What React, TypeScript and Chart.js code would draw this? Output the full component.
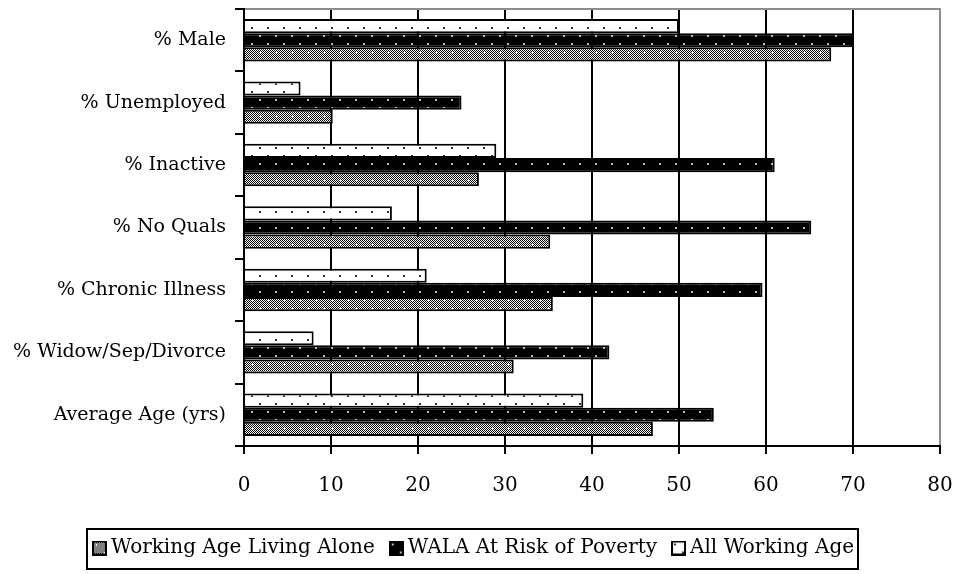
import React, { useEffect, useRef } from 'react';
import { Chart, registerables } from 'chart.js';

Chart.register(...registerables);

const categories = [
  '% Male',
  '% Unemployed',
  '% Inactive',
  '% No Quals',
  '% Chronic Illness',
  '% Widow/Sep/Divorce',
  'Average Age (yrs)',
];
const seriesNames = ['Working Age Living Alone', 'WALA At Risk of Poverty', 'All Working Age'];
const workingAgeAlone = [67.5, 10.2, 27, 35.2, 35.5, 31, 47];
const walaAtRisk = [70, 25, 61, 65.2, 59.6, 42, 54];
const allWorkingAge = [50, 6.5, 29, 17, 21, 8, 39];
const xTickValues = [0, 10, 20, 30, 40, 50, 60, 70, 80];

const FONT = 'DejaVu Serif';
const GREY = '#8c8c8c';

type Kind = 'white' | 'black' | 'grey';

function paintTile(g: CanvasRenderingContext2D, kind: Kind, w: number, h: number) {
  if (kind === 'white') {
    g.fillStyle = '#fff';
    g.fillRect(0, 0, w, h);
    g.fillStyle = '#333';
    for (let y = 0; y < h; y += 16) {
      for (let x = 0; x < w; x += 16) {
        g.fillRect(x + 3, y + 3, 2, 2);
        g.fillRect(x + 11, y + 11, 2, 2);
      }
    }
  } else if (kind === 'black') {
    g.fillStyle = '#000';
    g.fillRect(0, 0, w, h);
    g.fillStyle = '#bbb';
    for (let y = 0; y < h; y += 16) {
      for (let x = 0; x < w; x += 16) {
        g.fillRect(x + 3, y + 3, 2, 2);
        g.fillRect(x + 11, y + 11, 2, 2);
      }
    }
  } else {
    for (let y = 0; y < h; y++) {
      for (let x = 0; x < w; x++) {
        g.fillStyle = (x + y) % 2 === 0 ? '#000' : '#fff';
        g.fillRect(x, y, 1, 1);
      }
    }
    g.fillStyle = '#fff';
    const plus = (cx: number, cy: number) => {
      g.fillRect(cx - 1, cy, 3, 1);
      g.fillRect(cx, cy - 1, 1, 3);
    };
    for (let y = 0; y < h; y += 16) {
      for (let x = 0; x < w; x += 16) {
        plus(x + 4, y + 4);
        plus(x + 12, y + 12);
      }
    }
  }
}

function makePattern(kind: Kind): CanvasPattern | string {
  const c = document.createElement('canvas');
  c.width = 16;
  c.height = 16;
  const g = c.getContext('2d');
  if (!g) return '#888';
  paintTile(g, kind, 16, 16);
  return g.createPattern(c, 'repeat') || '#888';
}

function makeIcon(kind: Kind): HTMLCanvasElement {
  const c = document.createElement('canvas');
  c.width = 15;
  c.height = 15;
  const g = c.getContext('2d');
  if (g) {
    paintTile(g, kind, 15, 15);
    g.strokeStyle = '#000';
    g.lineWidth = 2;
    g.strokeRect(1, 1, 13, 13);
  }
  return c;
}

const LEGEND_SHIFT = 6;

const legendPlugin = {
  id: 'legendBorder',
  afterLayout(chart: any) {
    const l = chart.legend;
    if (l) {
      l.left += LEGEND_SHIFT;
      l.right += LEGEND_SHIFT;
    }
  },
  afterDraw(chart: any) {
    const l = chart.legend;
    if (!l || !l.lineWidths) return;
    const ctx = chart.ctx;
    const pad = l.options.labels.padding;
    const lw = l.lineWidths[0];
    const x0 = (l.left + pad + l.right - lw) / 2;
    const x1 = x0 + lw - pad;
    const cy = l.top + pad + 10;
    ctx.save();
    ctx.strokeStyle = '#000';
    ctx.lineWidth = 2;
    ctx.strokeRect(Math.round(x0 - 11), Math.round(cy - 19), Math.round(x1 - x0 + 15), 40);
    ctx.restore();
  },
};

const noPad = (s: any) => {
  s.paddingTop = 0;
  s.paddingBottom = 0;
  s.paddingLeft = 0;
  s.paddingRight = 0;
};

export default function App() {
  const ref = useRef<HTMLCanvasElement | null>(null);
  useEffect(() => {
    if (!ref.current) return;
    const kinds: Kind[] = ['white', 'black', 'grey'];
    const patterns = kinds.map((k) => makePattern(k));
    const icons = kinds.map((k) => makeIcon(k));
    const chart = new Chart(ref.current, {
      type: 'bar',
      data: {
        labels: categories,
        datasets: [
          {
            label: seriesNames[2],
            data: allWorkingAge,
            backgroundColor: patterns[0] as any,
            borderColor: '#000',
            borderWidth: 2,
          },
          {
            label: seriesNames[1],
            data: walaAtRisk,
            backgroundColor: patterns[1] as any,
            borderColor: '#000',
            borderWidth: 2,
          },
          {
            label: seriesNames[0],
            data: workingAgeAlone,
            backgroundColor: patterns[2] as any,
            borderColor: '#000',
            borderWidth: 2,
          },
        ],
      },
      options: {
        indexAxis: 'y',
        responsive: false,
        animation: false,
        layout: { padding: { top: 9, right: 17, bottom: 6, left: 0 } },
        datasets: {
          bar: { barPercentage: 1, categoryPercentage: 0.68 },
        },
        scales: {
          x: {
            type: 'linear',
            position: 'bottom',
            min: 0,
            max: 80,
            afterBuildTicks: (s: any) => {
              s.ticks = xTickValues.map((v) => ({ value: v }));
            },
            afterFit: (s: any) => {
              s.height = 72;
              noPad(s);
            },
            ticks: {
              color: '#000',
              padding: 20,
              font: { family: FONT, size: 20 },
              maxRotation: 0,
            },
            grid: {
              color: (c: any) =>
                c.tick && c.tick.value === 0 ? 'rgba(0,0,0,0)' : c.tick && c.tick.value === 80 ? GREY : '#000',
              tickColor: '#000',
              lineWidth: 2,
              tickLength: 8,
            },
            border: { display: true, color: '#000', width: 2 },
          },
          x2: {
            type: 'linear',
            axis: 'x',
            position: 'top',
            min: 0,
            max: 80,
            ticks: { display: false },
            grid: { display: false, drawTicks: false },
            border: { display: true, color: GREY, width: 2 },
            afterFit: (s: any) => {
              s.height = 0;
              noPad(s);
            },
          },
          y: {
            type: 'category',
            position: 'left',
            z: 1,
            afterFit: (s: any) => {
              s.width = 244;
              noPad(s);
            },
            ticks: {
              color: '#000',
              padding: 9,
              font: { family: FONT, size: 19 },
            },
            grid: {
              offset: true,
              drawOnChartArea: false,
              drawTicks: true,
              tickLength: 9,
              color: '#000',
              lineWidth: 2,
            },
            border: { display: true, color: '#000', width: 2 },
          },
        },
        plugins: {
          legend: {
            display: true,
            position: 'bottom',
            reverse: true,
            labels: {
              color: '#000',
              usePointStyle: true,
              pointStyleWidth: 3,
              boxHeight: 15,
              padding: 20,
              font: { family: FONT, size: 20 },
              generateLabels: (c: any) => {
                const items = (Chart.defaults as any).plugins.legend.labels.generateLabels(c);
                items.forEach((it: any) => {
                  it.pointStyle = icons[it.datasetIndex];
                });
                return items;
              },
            },
          },
          tooltip: { enabled: false },
        },
      },
      plugins: [legendPlugin],
    });
    return () => chart.destroy();
  }, []);
  return (
    <div style={{ position: 'fixed', left: 0, top: 0, width: 957, height: 574, background: '#fff' }}>
      <canvas ref={ref} width={957} height={574} style={{ display: 'block' }} />
    </div>
  );
}
